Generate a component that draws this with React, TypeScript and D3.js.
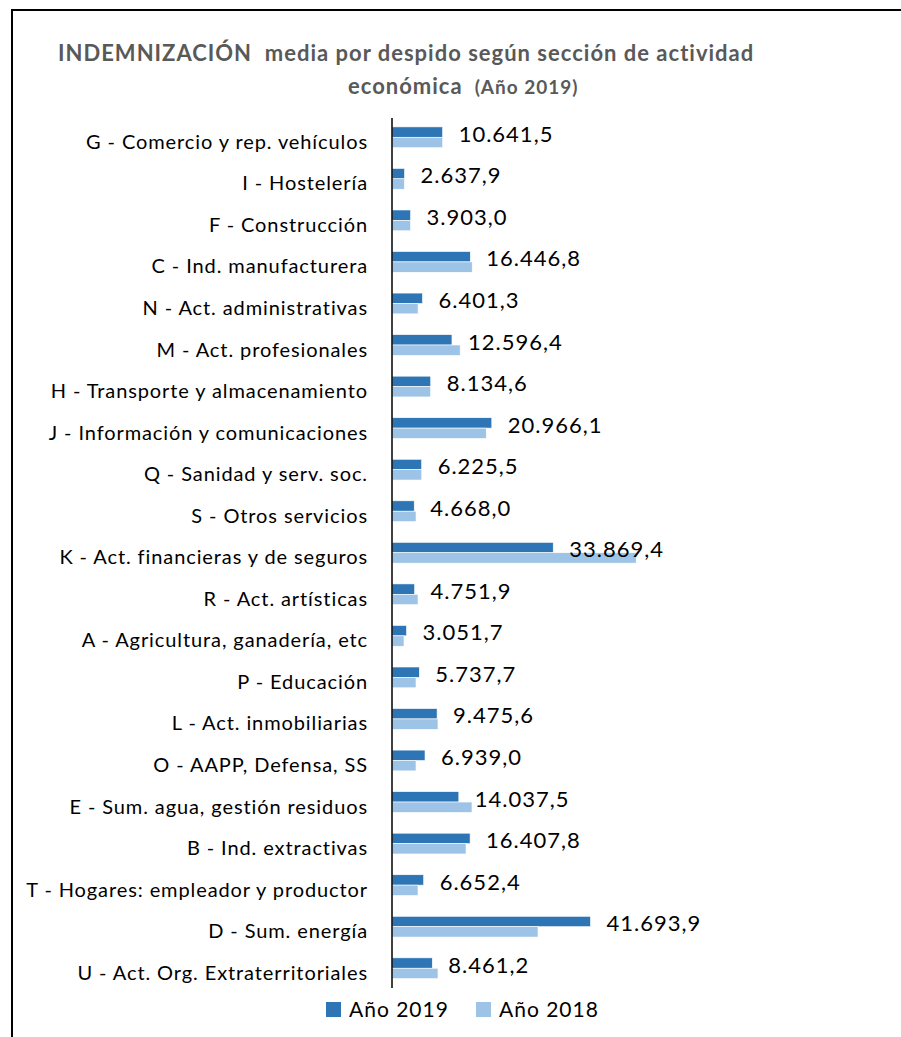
import { useEffect, useRef } from 'react';
import * as d3 from 'd3';

const categories = [
  'G - Comercio y rep. vehículos',
  'I - Hostelería',
  'F - Construcción',
  'C - Ind. manufacturera',
  'N - Act. administrativas',
  'M - Act. profesionales',
  'H - Transporte y almacenamiento',
  'J - Información y comunicaciones',
  'Q - Sanidad y serv. soc.',
  'S - Otros servicios',
  'K - Act. financieras y de seguros',
  'R - Act. artísticas',
  'A - Agricultura, ganadería, etc',
  'P - Educación',
  'L - Act. inmobiliarias',
  'O - AAPP, Defensa, SS',
  'E - Sum. agua, gestión residuos',
  'B - Ind. extractivas',
  'T - Hogares: empleador y productor',
  'D - Sum. energía',
  'U - Act. Org. Extraterritoriales',
];

const values2019 = [
  10641.5, 2637.9, 3903.0, 16446.8, 6401.3, 12596.4, 8134.6, 20966.1, 6225.5, 4668.0,
  33869.4, 4751.9, 3051.7, 5737.7, 9475.6, 6939.0, 14037.5, 16407.8, 6652.4, 41693.9, 8461.2,
];

const values2018 = [
  10650, 2600, 3900, 16850, 5480, 14320, 8100, 19800, 6250, 5050,
  51300, 5460, 2520, 5040, 9660, 5040, 16800, 15550, 5460, 30670, 9660,
];

const seriesNames = ['Año 2019', 'Año 2018'];
const colors = ['#2E75B6', '#9DC3E6'];

const fmt = (v: number) => {
  const [intPart, dec] = v.toFixed(1).split('.');
  return intPart.replace(/\B(?=(\d{3})+(?!\d))/g, '.') + ',' + dec;
};

export default function App() {
  const svgRef = useRef<SVGSVGElement>(null);

  useEffect(() => {
    const svg = d3.select(svgRef.current);
    svg.selectAll('*').remove();

    const font = 'Lato, "Open Sans", sans-serif';

    // frame (only left and top edges are in view)
    svg.append('path')
      .attr('d', 'M12,1040 L12,10 L905,10')
      .attr('fill', 'none')
      .attr('stroke', '#000')
      .attr('stroke-width', 2);

    // title
    const title = svg.append('text')
      .attr('font-family', font)
      .attr('font-weight', 'bold')
      .attr('letter-spacing', 1)
      .attr('fill', '#595959');
    title.append('tspan')
      .attr('x', 58).attr('y', 61)
      .attr('font-size', 22)
      .style('white-space', 'pre')
      .text('INDEMNIZACIÓN  media por despido según sección de actividad');
    title.append('tspan')
      .attr('x', 348).attr('y', 94)
      .attr('font-size', 22)
      .text('económica');
    title.append('tspan')
      .attr('dx', 12)
      .attr('font-size', 19)
      .text('(Año 2019)');

    const y = d3.scaleBand<string>()
      .domain(categories)
      .range([116.5, 989])
      .paddingInner(0.5)
      .paddingOuter(0.25);

    const x = d3.scaleLinear()
      .domain([0, 60000])
      .range([392, 677.6]);

    const sub = d3.scaleBand<number>()
      .domain([0, 1])
      .range([0, y.bandwidth()]);

    const rows = categories.map((c, i) => ({ c, v: [values2019[i], values2018[i]] }));

    const g = svg.append('g');
    rows.forEach(r => {
      r.v.forEach((v, k) => {
        g.append('rect')
          .attr('x', x(0))
          .attr('y', (y(r.c) as number) + (sub(k) as number))
          .attr('width', x(v) - x(0))
          .attr('height', sub.bandwidth())
          .attr('fill', colors[k])
          .attr('stroke', '#fff')
          .attr('stroke-width', 0.6);
      });
    });

    // axis line
    svg.append('line')
      .attr('x1', x(0)).attr('x2', x(0))
      .attr('y1', y.range()[0] + 1.5).attr('y2', y.range()[1] - 1)
      .attr('stroke', '#000')
      .attr('stroke-width', 1.5);

    // category labels
    svg.selectAll('.cat')
      .data(categories)
      .join('text')
      .attr('class', 'cat')
      .attr('x', 368)
      .attr('y', d => (y(d) as number) + y.bandwidth() / 2 + 11.5)
      .attr('text-anchor', 'end')
      .attr('font-family', font)
      .attr('font-size', 20)
      .attr('letter-spacing', 0.9)
      .attr('fill', '#000')
      .text(d => d);

    // value labels (2019)
    svg.selectAll('.val')
      .data(rows)
      .join('text')
      .attr('class', 'val')
      .attr('x', d => x(d.v[0]) + 16)
      .attr('y', d => (y(d.c) as number) + y.bandwidth() / 2 + 4.5)
      .attr('font-family', font)
      .attr('font-size', 22)
      .attr('letter-spacing', 1)
      .attr('fill', '#000')
      .text(d => fmt(d.v[0]));

    // legend
    const legendX = [326, 476];
    seriesNames.forEach((s, k) => {
      svg.append('rect')
        .attr('x', legendX[k]).attr('y', 1002)
        .attr('width', 15).attr('height', 15)
        .attr('fill', colors[k]);
      svg.append('text')
        .attr('x', legendX[k] + 23).attr('y', 1017)
        .attr('font-family', font)
        .attr('font-size', 21)
        .attr('letter-spacing', 1)
        .attr('fill', '#000')
        .text(s);
    });
  }, []);

  return (
    <svg
      ref={svgRef}
      width={901}
      height={1037}
      style={{ position: 'absolute', left: 0, top: 0, background: '#fff' }}
    />
  );
}
